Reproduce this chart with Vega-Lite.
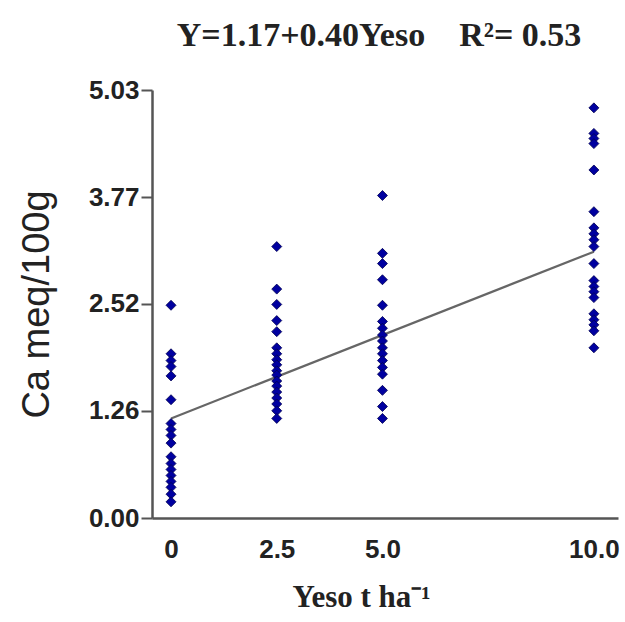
{
  "$schema": "https://vega.github.io/schema/vega-lite/v6.json",
  "width": 466,
  "height": 428,
  "autosize": {"type": "none"},
  "padding": {"left": 152, "top": 90, "right": 7, "bottom": 104},
  "background": "white",
  "title": {
    "text": "Y=1.17+0.40Yeso\u00a0\u00a0\u00a0\u00a0R\u00b2= 0.53",
    "font": "Liberation Serif",
    "fontSize": 34,
    "fontWeight": "bold",
    "color": "#222222",
    "anchor": "middle",
    "baseline": "bottom",
    "offset": 28,
    "dx": -6,
    "dy": 38
  },
  "config": {"view": {"stroke": null}},
  "datasets": {
    "obs": [
      {"yeso": 0, "ca": 2.50}, {"yeso": 0, "ca": 1.93}, {"yeso": 0, "ca": 1.85}, {"yeso": 0, "ca": 1.78},
      {"yeso": 0, "ca": 1.67}, {"yeso": 0, "ca": 1.39}, {"yeso": 0, "ca": 1.11}, {"yeso": 0, "ca": 1.04},
      {"yeso": 0, "ca": 0.97}, {"yeso": 0, "ca": 0.88}, {"yeso": 0, "ca": 0.72}, {"yeso": 0, "ca": 0.64},
      {"yeso": 0, "ca": 0.57}, {"yeso": 0, "ca": 0.50}, {"yeso": 0, "ca": 0.43}, {"yeso": 0, "ca": 0.36},
      {"yeso": 0, "ca": 0.28}, {"yeso": 0, "ca": 0.19},
      {"yeso": 2.5, "ca": 3.19}, {"yeso": 2.5, "ca": 2.69}, {"yeso": 2.5, "ca": 2.51}, {"yeso": 2.5, "ca": 2.32},
      {"yeso": 2.5, "ca": 2.19}, {"yeso": 2.5, "ca": 2.00}, {"yeso": 2.5, "ca": 1.93}, {"yeso": 2.5, "ca": 1.86},
      {"yeso": 2.5, "ca": 1.80}, {"yeso": 2.5, "ca": 1.73}, {"yeso": 2.5, "ca": 1.68}, {"yeso": 2.5, "ca": 1.61},
      {"yeso": 2.5, "ca": 1.55}, {"yeso": 2.5, "ca": 1.48}, {"yeso": 2.5, "ca": 1.41}, {"yeso": 2.5, "ca": 1.34},
      {"yeso": 2.5, "ca": 1.26}, {"yeso": 2.5, "ca": 1.17},
      {"yeso": 5, "ca": 3.79}, {"yeso": 5, "ca": 3.11}, {"yeso": 5, "ca": 2.99}, {"yeso": 5, "ca": 2.80},
      {"yeso": 5, "ca": 2.50}, {"yeso": 5, "ca": 2.31}, {"yeso": 5, "ca": 2.23}, {"yeso": 5, "ca": 2.15},
      {"yeso": 5, "ca": 2.08}, {"yeso": 5, "ca": 2.00}, {"yeso": 5, "ca": 1.93}, {"yeso": 5, "ca": 1.85},
      {"yeso": 5, "ca": 1.77}, {"yeso": 5, "ca": 1.69}, {"yeso": 5, "ca": 1.50}, {"yeso": 5, "ca": 1.31},
      {"yeso": 5, "ca": 1.17},
      {"yeso": 10, "ca": 4.82}, {"yeso": 10, "ca": 4.52}, {"yeso": 10, "ca": 4.46}, {"yeso": 10, "ca": 4.40},
      {"yeso": 10, "ca": 4.09}, {"yeso": 10, "ca": 3.60}, {"yeso": 10, "ca": 3.41}, {"yeso": 10, "ca": 3.34},
      {"yeso": 10, "ca": 3.27}, {"yeso": 10, "ca": 3.19}, {"yeso": 10, "ca": 2.99}, {"yeso": 10, "ca": 2.79},
      {"yeso": 10, "ca": 2.72}, {"yeso": 10, "ca": 2.66}, {"yeso": 10, "ca": 2.59}, {"yeso": 10, "ca": 2.40},
      {"yeso": 10, "ca": 2.33}, {"yeso": 10, "ca": 2.27}, {"yeso": 10, "ca": 2.20}, {"yeso": 10, "ca": 2.00}
    ],
    "fit": [
      {"yeso": 0, "ca": 1.17},
      {"yeso": 10, "ca": 3.13}
    ]
  },
  "encoding": {
    "x": {
      "field": "yeso",
      "type": "quantitative",
      "scale": {"domain": [-0.45, 10.57], "nice": false, "zero": false},
      "axis": {
        "title": "Yeso t ha\u207b\u00b9",
        "titleFont": "Liberation Serif",
        "titleFontSize": 31,
        "titleFontWeight": "bold",
        "titleColor": "#222222",
        "titleX": 209,
        "titleY": 88,
        "titleAlign": "center",
        "titleBaseline": "alphabetic",
        "values": [0, 2.5, 5, 10],
        "labelExpr": "datum.value == 0 ? '0' : format(datum.value, '.1f')",
        "labelFont": "Liberation Sans",
        "labelFontSize": 26,
        "labelFontWeight": "bold",
        "labelColor": "#222222",
        "labelPadding": 18,
        "ticks": false,
        "grid": false,
        "domainColor": "#555555",
        "domainWidth": 2.5
      }
    },
    "y": {
      "field": "ca",
      "type": "quantitative",
      "scale": {"domain": [0, 5.03], "nice": false},
      "axis": {
        "title": "Ca meq/100g",
        "titleFont": "Liberation Sans",
        "titleFontSize": 38,
        "titleFontWeight": "normal",
        "titleColor": "#222222",
        "titlePadding": 32,
        "values": [0, 1.26, 2.52, 3.77, 5.03],
        "format": ".2f",
        "labelFont": "Liberation Sans",
        "labelFontSize": 26,
        "labelFontWeight": "bold",
        "labelColor": "#222222",
        "labelPadding": 2,
        "tickSize": 11,
        "tickWidth": 2,
        "tickColor": "#555555",
        "grid": false,
        "domainColor": "#555555",
        "domainWidth": 2.5
      }
    }
  },
  "layer": [
    {
      "data": {"name": "fit"},
      "mark": {"type": "line", "color": "#666666", "strokeWidth": 2.2}
    },
    {
      "data": {"name": "obs"},
      "mark": {"type": "point", "shape": "diamond", "filled": true, "size": 100, "fill": "#0000a0", "stroke": "#000050", "strokeWidth": 0.8, "opacity": 1}
    }
  ]
}
